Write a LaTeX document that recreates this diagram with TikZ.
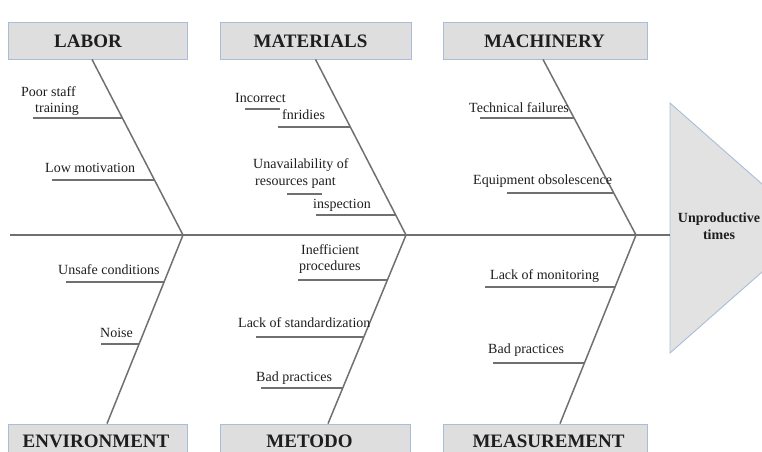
\documentclass[tikz,border=0pt]{standalone}
\usepackage{fontspec}
\setmainfont{Liberation Serif}
\begin{document}
\begin{tikzpicture}[x=1pt,y=-1pt,
  category/.style={draw=boxline, fill=boxfill, line width=0.8pt, inner sep=0pt},
  title/.style={inner sep=0pt, font=\fontsize{19}{21}\selectfont\bfseries, text=textcol},
  bone/.style={draw=boneline, line width=1.5pt},
  spinestyle/.style={draw=boneline, line width=2.4pt},
  twig/.style={draw=boneline, line width=1.2pt},
  cause/.style={anchor=base west, inner sep=0pt, font=\fontsize{14}{16}\selectfont, text=textcol},
  effecttext/.style={align=center, inner sep=0pt, font=\fontsize{14}{17}\selectfont\bfseries, text=textcol}]
\definecolor{boxline}{HTML}{A8BED8}
\definecolor{boxfill}{HTML}{DEDEDE}
\definecolor{boneline}{HTML}{707070}
\definecolor{textcol}{HTML}{1E1E1E}
\definecolor{headfill}{HTML}{E2E2E2}

\useasboundingbox (0,0) rectangle (762,451);
\clip (0,0) rectangle (762,451);

% category boxes
\node[category, minimum width=179pt, minimum height=37pt] (labor) at (97.5,40.5) {};
\node[category, minimum width=191pt, minimum height=37pt] (materials) at (315.5,40.5) {};
\node[category, minimum width=204pt, minimum height=37pt] (machinery) at (545,40.5) {};
\node[category, minimum width=179pt, minimum height=37pt] (environment) at (97.5,442.5) {};
\node[category, minimum width=190pt, minimum height=37pt] (metodo) at (315,442.5) {};
\node[category, minimum width=204pt, minimum height=37pt] (measurement) at (545,442.5) {};

% category titles
\node[title] (laborT) at (88,41.5) {LABOR};
\node[title] (materialsT) at (310.5,41.5) {MATERIALS};
\node[title] (machineryT) at (544.5,41.5) {MACHINERY};
\node[title] (environmentT) at (96,441) {ENVIRONMENT};
\node[title] (metodoT) at (309.5,441) {METODO};
\node[title] (measurementT) at (548.5,441) {MEASUREMENT};

% fish head
\coordinate (headtop) at (670,103);
\coordinate (headbot) at (670,353);
\coordinate (headtip) at (812,228);
\fill[headfill] (headtop) -- (headtip) -- (headbot) -- cycle;
\draw[boxline, line width=0.9pt] (headtop) -- (headtip) -- (headbot) -- cycle;
\node[effecttext] (effect) at (719,226) {Unproductive\\times};

% spine and junctions
\coordinate (tail) at (10,235);
\coordinate (headin) at (670,235);
\coordinate (j1) at (183,235);
\coordinate (j2) at (406,235);
\coordinate (j3) at (636,235);
\draw[spinestyle] (tail) -- (headin);

% main bones
\draw[bone] ([xshift=-5.5pt]labor.south) -- (j1);
\draw[bone] (materials.south) -- (j2);
\draw[bone] ([xshift=-2pt]machinery.south) -- (j3);
\draw[bone] ([xshift=9.5pt]environment.north) -- (j1);
\draw[bone] ([xshift=13pt]metodo.north) -- (j2);
\draw[bone] ([xshift=15pt]measurement.north) -- (j3);

% LABOR causes
\node[cause] (c1a) at (21,96) {Poor staff};
\node[cause] (c1b) at (35,112) {training};
\coordinate (t1a) at (33,118); \coordinate (t1b) at (122.5,118);
\draw[twig] (t1a) -- (t1b);
\node[cause] (c2) at (45,172) {Low motivation};
\coordinate (t2a) at (52,180); \coordinate (t2b) at (154.6,180);
\draw[twig] (t2a) -- (t2b);

% MATERIALS causes
\node[cause] (c3a) at (235,102) {Incorrect};
\coordinate (s3a) at (245,109); \coordinate (s3b) at (280,109);
\draw[twig] (s3a) -- (s3b);
\node[cause] (c3b) at (282,119) {fnridies};
\coordinate (t3a) at (278,127); \coordinate (t3b) at (350.8,127);
\draw[twig] (t3a) -- (t3b);
\node[cause] (c4a) at (253,168) {Unavailability of};
\node[cause] (c4b) at (255,185) {resources pant};
\coordinate (s4a) at (287,194); \coordinate (s4b) at (322,194);
\draw[twig] (s4a) -- (s4b);
\node[cause] (c4c) at (313,208) {inspection};
\coordinate (t4a) at (316,215); \coordinate (t4b) at (395.7,215);
\draw[twig] (t4a) -- (t4b);

% MACHINERY causes
\node[cause] (c5) at (469,112) {Technical failures};
\coordinate (t5a) at (480,118); \coordinate (t5b) at (574.2,118);
\draw[twig] (t5a) -- (t5b);
\node[cause] (c6) at (473,184) {Equipment obsolescence};
\coordinate (t6a) at (507,193); \coordinate (t6b) at (613.8,193);
\draw[twig] (t6a) -- (t6b);

% ENVIRONMENT causes
\node[cause] (c7) at (58,274) {Unsafe conditions};
\coordinate (t7a) at (66,282); \coordinate (t7b) at (164.1,282);
\draw[twig] (t7a) -- (t7b);
\node[cause] (c8) at (100,337) {Noise};
\coordinate (t8a) at (101,344); \coordinate (t8b) at (139.2,344);
\draw[twig] (t8a) -- (t8b);

% METODO causes
\node[cause] (c9a) at (301,254) {Inefficient};
\node[cause] (c9b) at (299,270) {procedures};
\coordinate (t9a) at (298,280); \coordinate (t9b) at (387.4,280);
\draw[twig] (t9a) -- (t9b);
\node[cause] (c10) at (238,327) {Lack of standardization};
\coordinate (t10a) at (256,337); \coordinate (t10b) at (363.9,337);
\draw[twig] (t10a) -- (t10b);
\node[cause] (c11) at (256,381) {Bad practices};
\coordinate (t11a) at (261,388); \coordinate (t11b) at (342.8,388);
\draw[twig] (t11a) -- (t11b);

% MEASUREMENT causes
\node[cause] (c12) at (490,279) {Lack of monitoring};
\coordinate (t12a) at (485,287); \coordinate (t12b) at (615.1,287);
\draw[twig] (t12a) -- (t12b);
\node[cause] (c13) at (488,353) {Bad practices};
\coordinate (t13a) at (493,363); \coordinate (t13b) at (584.5,363);
\draw[twig] (t13a) -- (t13b);
\end{tikzpicture}
\end{document}
